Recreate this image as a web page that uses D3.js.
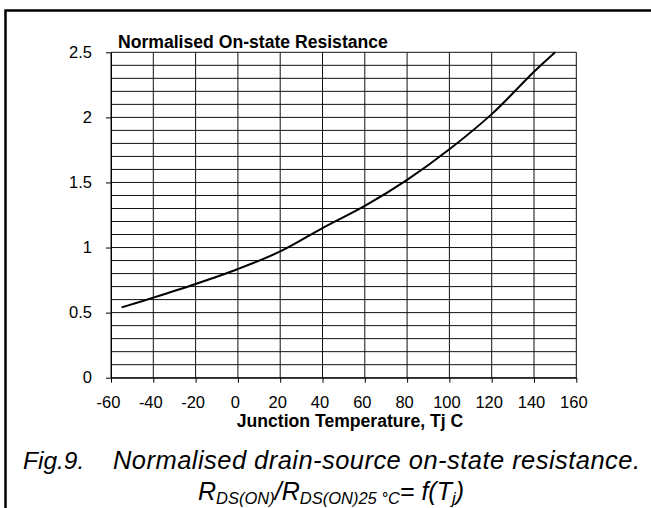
<!DOCTYPE html>
<html>
<head>
<meta charset="utf-8">
<script src="https://cdn.jsdelivr.net/npm/d3@7"></script>
<style>
  body { margin: 0; background: #fff; }
  text { font-family: "Liberation Sans", Arial, sans-serif; fill: #000; }
</style>
</head>
<body>
<svg id="chart"></svg>
<script>
// junction temperature (C) and normalised Rds(on)
var tempC = [-55, -40, -20, 0, 20, 40, 60, 80, 100, 120, 140, 150];
var rdsNorm = [0.54, 0.615, 0.72, 0.835, 0.97, 1.15, 1.32, 1.52, 1.755, 2.025, 2.35, 2.5];

var xTicks = [-60, -40, -20, 0, 20, 40, 60, 80, 100, 120, 140, 160];
var yTicks = [0, 0.5, 1, 1.5, 2, 2.5];

var W = 651, H = 508;

var svg = d3.select("#chart")
  .attr("width", W)
  .attr("height", H);

// outer frame (top + left only)
svg.append("path")
  .attr("d", "M5.5,508 L5.5,10.5 L651,10.5")
  .attr("fill", "none")
  .attr("stroke", "#000")
  .attr("stroke-width", 2.5);

var x = d3.scaleLinear()
  .domain([-60, 160])
  .range([111, 576.3]);

var y = d3.scaleLinear()
  .domain([0, 2.5])
  .range([377.7, 52.3]);

// grid
var grid = svg.append("g").attr("stroke", "#111").attr("stroke-width", 1);

grid.selectAll(".hgrid")
  .data(y.ticks(25))
  .enter()
  .append("line")
  .attr("class", "hgrid")
  .attr("x1", x(-60)).attr("x2", x(160))
  .attr("y1", d => y(d)).attr("y2", d => y(d));

grid.selectAll(".vgrid")
  .data(xTicks)
  .enter()
  .append("line")
  .attr("class", "vgrid")
  .attr("x1", d => x(d)).attr("x2", d => x(d))
  .attr("y1", y(0)).attr("y2", y(2.5));

// axes
var yAxis = svg.append("g")
  .attr("transform", "translate(" + x(-60) + ",0)")
  .call(d3.axisLeft(y).tickValues(yTicks).tickSize(5).tickSizeOuter(0).tickPadding(14)
    .tickFormat(d => String(d)));

var xAxis = svg.append("g")
  .attr("transform", "translate(0," + y(0) + ")")
  .call(d3.axisBottom(x).tickValues(xTicks).tickSize(5).tickSizeOuter(0).tickPadding(14)
    .tickFormat(d => String(d)));

svg.selectAll(".domain").attr("stroke", "#000");
svg.selectAll(".tick line").attr("stroke", "#000");
svg.selectAll(".tick text")
  .attr("font-size", "16.5px")
  .style("font-family", '"Liberation Sans", Arial, sans-serif')
  .attr("fill", "#000");
xAxis.selectAll(".tick text").attr("dx", -3);

// curve
var pts = tempC.map((t, i) => [t, rdsNorm[i]]);
svg.append("path")
  .datum(pts)
  .attr("fill", "none")
  .attr("stroke", "#000")
  .attr("stroke-width", 2)
  .attr("d", d3.line()
    .x(d => x(d[0]))
    .y(d => y(d[1]))
    .curve(d3.curveCatmullRom));

// titles
svg.append("text")
  .attr("x", 118)
  .attr("y", 48)
  .attr("font-size", "17.6px")
  .attr("font-weight", "bold")
  .text("Normalised On-state Resistance");

svg.append("text")
  .attr("x", 350)
  .attr("y", 426.5)
  .attr("text-anchor", "middle")
  .attr("font-size", "17.6px")
  .attr("font-weight", "bold")
  .text("Junction Temperature, Tj C");

// figure caption
svg.append("text")
  .attr("x", 23)
  .attr("y", 469)
  .attr("font-size", "24.5px")
  .attr("font-style", "italic")
  .text("Fig.9.");

svg.append("text")
  .attr("x", 113)
  .attr("y", 469)
  .attr("font-size", "25.5px")
  .attr("font-style", "italic")
  .attr("textLength", 527)
  .attr("lengthAdjust", "spacing")
  .text("Normalised drain-source on-state resistance.");

var cap = svg.append("text")
  .attr("x", 198)
  .attr("y", 500)
  .attr("font-size", "25px")
  .attr("font-style", "italic");

cap.append("tspan").text("R");
cap.append("tspan").attr("font-size", "16.5px").attr("dy", 4).text("DS(ON)");
cap.append("tspan").attr("dy", -4).text("/R");
cap.append("tspan").attr("font-size", "16.5px").attr("dy", 4).text("DS(ON)25 \u00B0C");
cap.append("tspan").attr("dy", -4).text("= f(T");
cap.append("tspan").attr("font-size", "16.5px").attr("dy", 4).text("j");
cap.append("tspan").attr("dy", -4).text(")");
</script>
</body>
</html>
